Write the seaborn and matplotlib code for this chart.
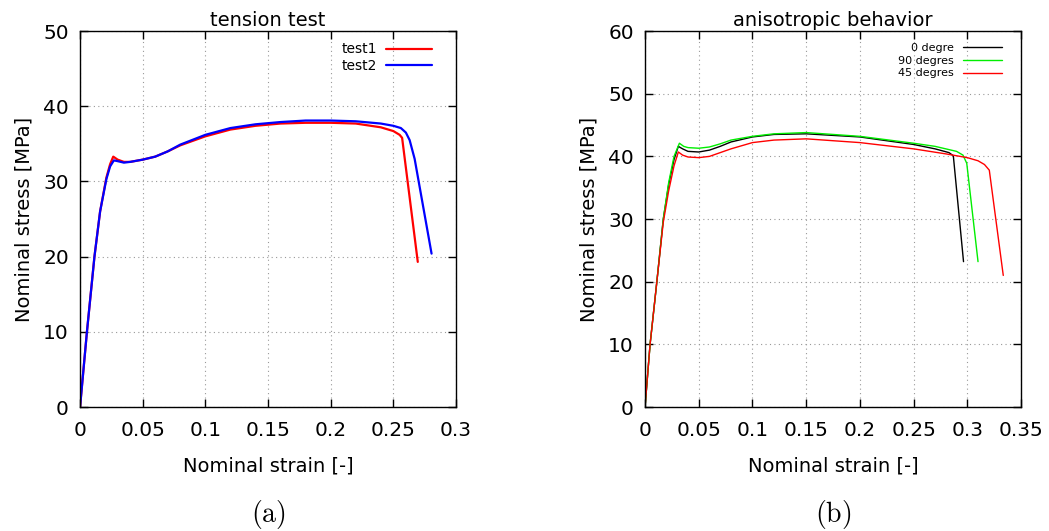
"""
Tension test and anisotropic behavior stress-strain curves.
"""

import matplotlib
matplotlib.use("Agg")
import matplotlib.pyplot as plt
import seaborn as sns

# (a) tension test
test1_strain = [0, 0.0055, 0.0115, 0.016, 0.021, 0.024, 0.0265, 0.03, 0.035, 0.04,
                0.05, 0.06, 0.07, 0.08, 0.1, 0.12, 0.14, 0.16, 0.18, 0.2, 0.22,
                0.24, 0.25, 0.255, 0.257, 0.2695]
test1_stress = [0, 10, 20, 26, 30.5, 32.3, 33.3, 32.9, 32.6, 32.6,
                32.9, 33.3, 34.0, 34.8, 36.0, 36.9, 37.4, 37.7, 37.8, 37.8, 37.7,
                37.2, 36.7, 36.2, 35.8, 19.3]
test2_strain = [0, 0.0055, 0.0115, 0.016, 0.021, 0.024, 0.027, 0.03, 0.035, 0.04,
                0.05, 0.06, 0.07, 0.08, 0.1, 0.12, 0.14, 0.16, 0.18, 0.2, 0.22,
                0.24, 0.25, 0.256, 0.26, 0.263, 0.267, 0.2805]
test2_stress = [0, 10, 20, 26, 30.3, 32.0, 32.8, 32.7, 32.5, 32.6,
                32.9, 33.3, 34.0, 34.9, 36.2, 37.1, 37.6, 37.9, 38.1, 38.1, 38.0,
                37.7, 37.4, 37.1, 36.5, 35.5, 33.0, 20.4]

# (b) anisotropic behavior
deg0_strain = [0, 0.0047, 0.011, 0.017, 0.022, 0.027, 0.031, 0.035, 0.04, 0.05,
               0.06, 0.07, 0.08, 0.1, 0.12, 0.15, 0.2, 0.25, 0.27, 0.283, 0.287, 0.2965]
deg0_stress = [0, 10, 20, 30, 35.5, 39.5, 41.6, 41.2, 40.8, 40.7,
               41.0, 41.6, 42.3, 43.1, 43.5, 43.6, 43.1, 41.9, 41.2, 40.6, 40.1, 23.2]
deg90_strain = [0, 0.0047, 0.011, 0.017, 0.022, 0.027, 0.032, 0.036, 0.04, 0.05,
                0.06, 0.07, 0.08, 0.1, 0.12, 0.15, 0.2, 0.25, 0.27, 0.29, 0.296,
                0.2995, 0.31]
deg90_stress = [0, 10, 20, 30, 35.8, 40.0, 42.1, 41.6, 41.4, 41.3,
                41.5, 42.0, 42.6, 43.2, 43.6, 43.8, 43.2, 42.1, 41.6, 40.8, 40.2,
                38.9, 23.2]
deg45_strain = [0, 0.0047, 0.011, 0.017, 0.022, 0.027, 0.031, 0.035, 0.04, 0.05,
                0.06, 0.07, 0.08, 0.1, 0.12, 0.15, 0.2, 0.25, 0.28, 0.3, 0.31,
                0.316, 0.3205, 0.3335]
deg45_stress = [0, 10, 20, 29.5, 34.5, 38.5, 40.7, 40.2, 39.9, 39.8,
                40.0, 40.6, 41.2, 42.2, 42.6, 42.8, 42.2, 41.2, 40.4, 39.8, 39.3,
                38.7, 37.8, 21.0]

x_ticks_a = [0, 0.05, 0.1, 0.15, 0.2, 0.25, 0.3]
y_ticks_a = [0, 10, 20, 30, 40, 50]
x_ticks_b = [0, 0.05, 0.1, 0.15, 0.2, 0.25, 0.3, 0.35]
y_ticks_b = [0, 10, 20, 30, 40, 50, 60]

sns.set_theme(style="ticks")
plt.rcParams["font.family"] = ["DejaVu Sans"]
plt.rcParams["mathtext.fontset"] = "cm"
plt.rcParams["text.color"] = "black"
plt.rcParams["axes.labelcolor"] = "black"


def style_axes(ax, xticks, yticks, title):
    ax.set_xlim(xticks[0], xticks[-1])
    ax.set_ylim(yticks[0], yticks[-1])
    ax.set_xticks(xticks)
    ax.set_yticks(yticks)
    ax.set_xticklabels([f"{t:g}" for t in xticks])
    ax.set_yticklabels([f"{t:g}" for t in yticks])
    ax.tick_params(direction="in", length=6, width=1, top=True, right=True,
                   labelsize=14.5, colors="black")
    ax.tick_params(axis="x", pad=10)
    ax.tick_params(axis="y", pad=8)
    ax.grid(True, linestyle=(0, (1, 3)), color="#999999", linewidth=0.8)
    for spine in ax.spines.values():
        spine.set_visible(True)
        spine.set_color("black")
        spine.set_linewidth(1.0)
    ax.set_xlabel("Nominal strain [-]", fontsize=14, labelpad=12, color="black")
    ax.set_ylabel("Nominal stress [MPa]", fontsize=14, labelpad=7, color="black")
    ax.set_title(title, fontsize=14, pad=4, color="black")


fig = plt.figure(figsize=(10.49, 5.31), dpi=100)
ax_a = fig.add_axes([0.0763, 0.2335, 0.3584, 0.708])
ax_b = fig.add_axes([0.6149, 0.2335, 0.3584, 0.708])

sns.lineplot(x=test1_strain, y=test1_stress, ax=ax_a, color="#ff0000",
             linewidth=1.6, label="test1", sort=False, estimator=None)
sns.lineplot(x=test2_strain, y=test2_stress, ax=ax_a, color="#0000ff",
             linewidth=1.6, label="test2", sort=False, estimator=None)
style_axes(ax_a, x_ticks_a, y_ticks_a, "tension test")
ax_a.legend(loc="upper right", bbox_to_anchor=(0.97, 1.003), frameon=False,
            markerfirst=False, fontsize=10, handlelength=3.3,
            labelspacing=0.2, handletextpad=0.7)

sns.lineplot(x=deg0_strain, y=deg0_stress, ax=ax_b, color="#000000",
             linewidth=1.0, label="0 degre", sort=False, estimator=None)
sns.lineplot(x=deg90_strain, y=deg90_stress, ax=ax_b, color="#00ee00",
             linewidth=1.0, label="90 degres", sort=False, estimator=None)
sns.lineplot(x=deg45_strain, y=deg45_stress, ax=ax_b, color="#ff0000",
             linewidth=1.0, label="45 degres", sort=False, estimator=None)
style_axes(ax_b, x_ticks_b, y_ticks_b, "anisotropic behavior")
ax_b.legend(loc="upper right", bbox_to_anchor=(0.975, 0.995), frameon=False,
            markerfirst=False, fontsize=8, handlelength=3.5,
            labelspacing=0.25, handletextpad=0.8)

fig.text(0.2555, 0.032, r"$\mathrm{(a)}$", ha="center", va="center", fontsize=20)
fig.text(0.7941, 0.032, r"$\mathrm{(b)}$", ha="center", va="center", fontsize=20)

fig.savefig("out.png", dpi=100)
